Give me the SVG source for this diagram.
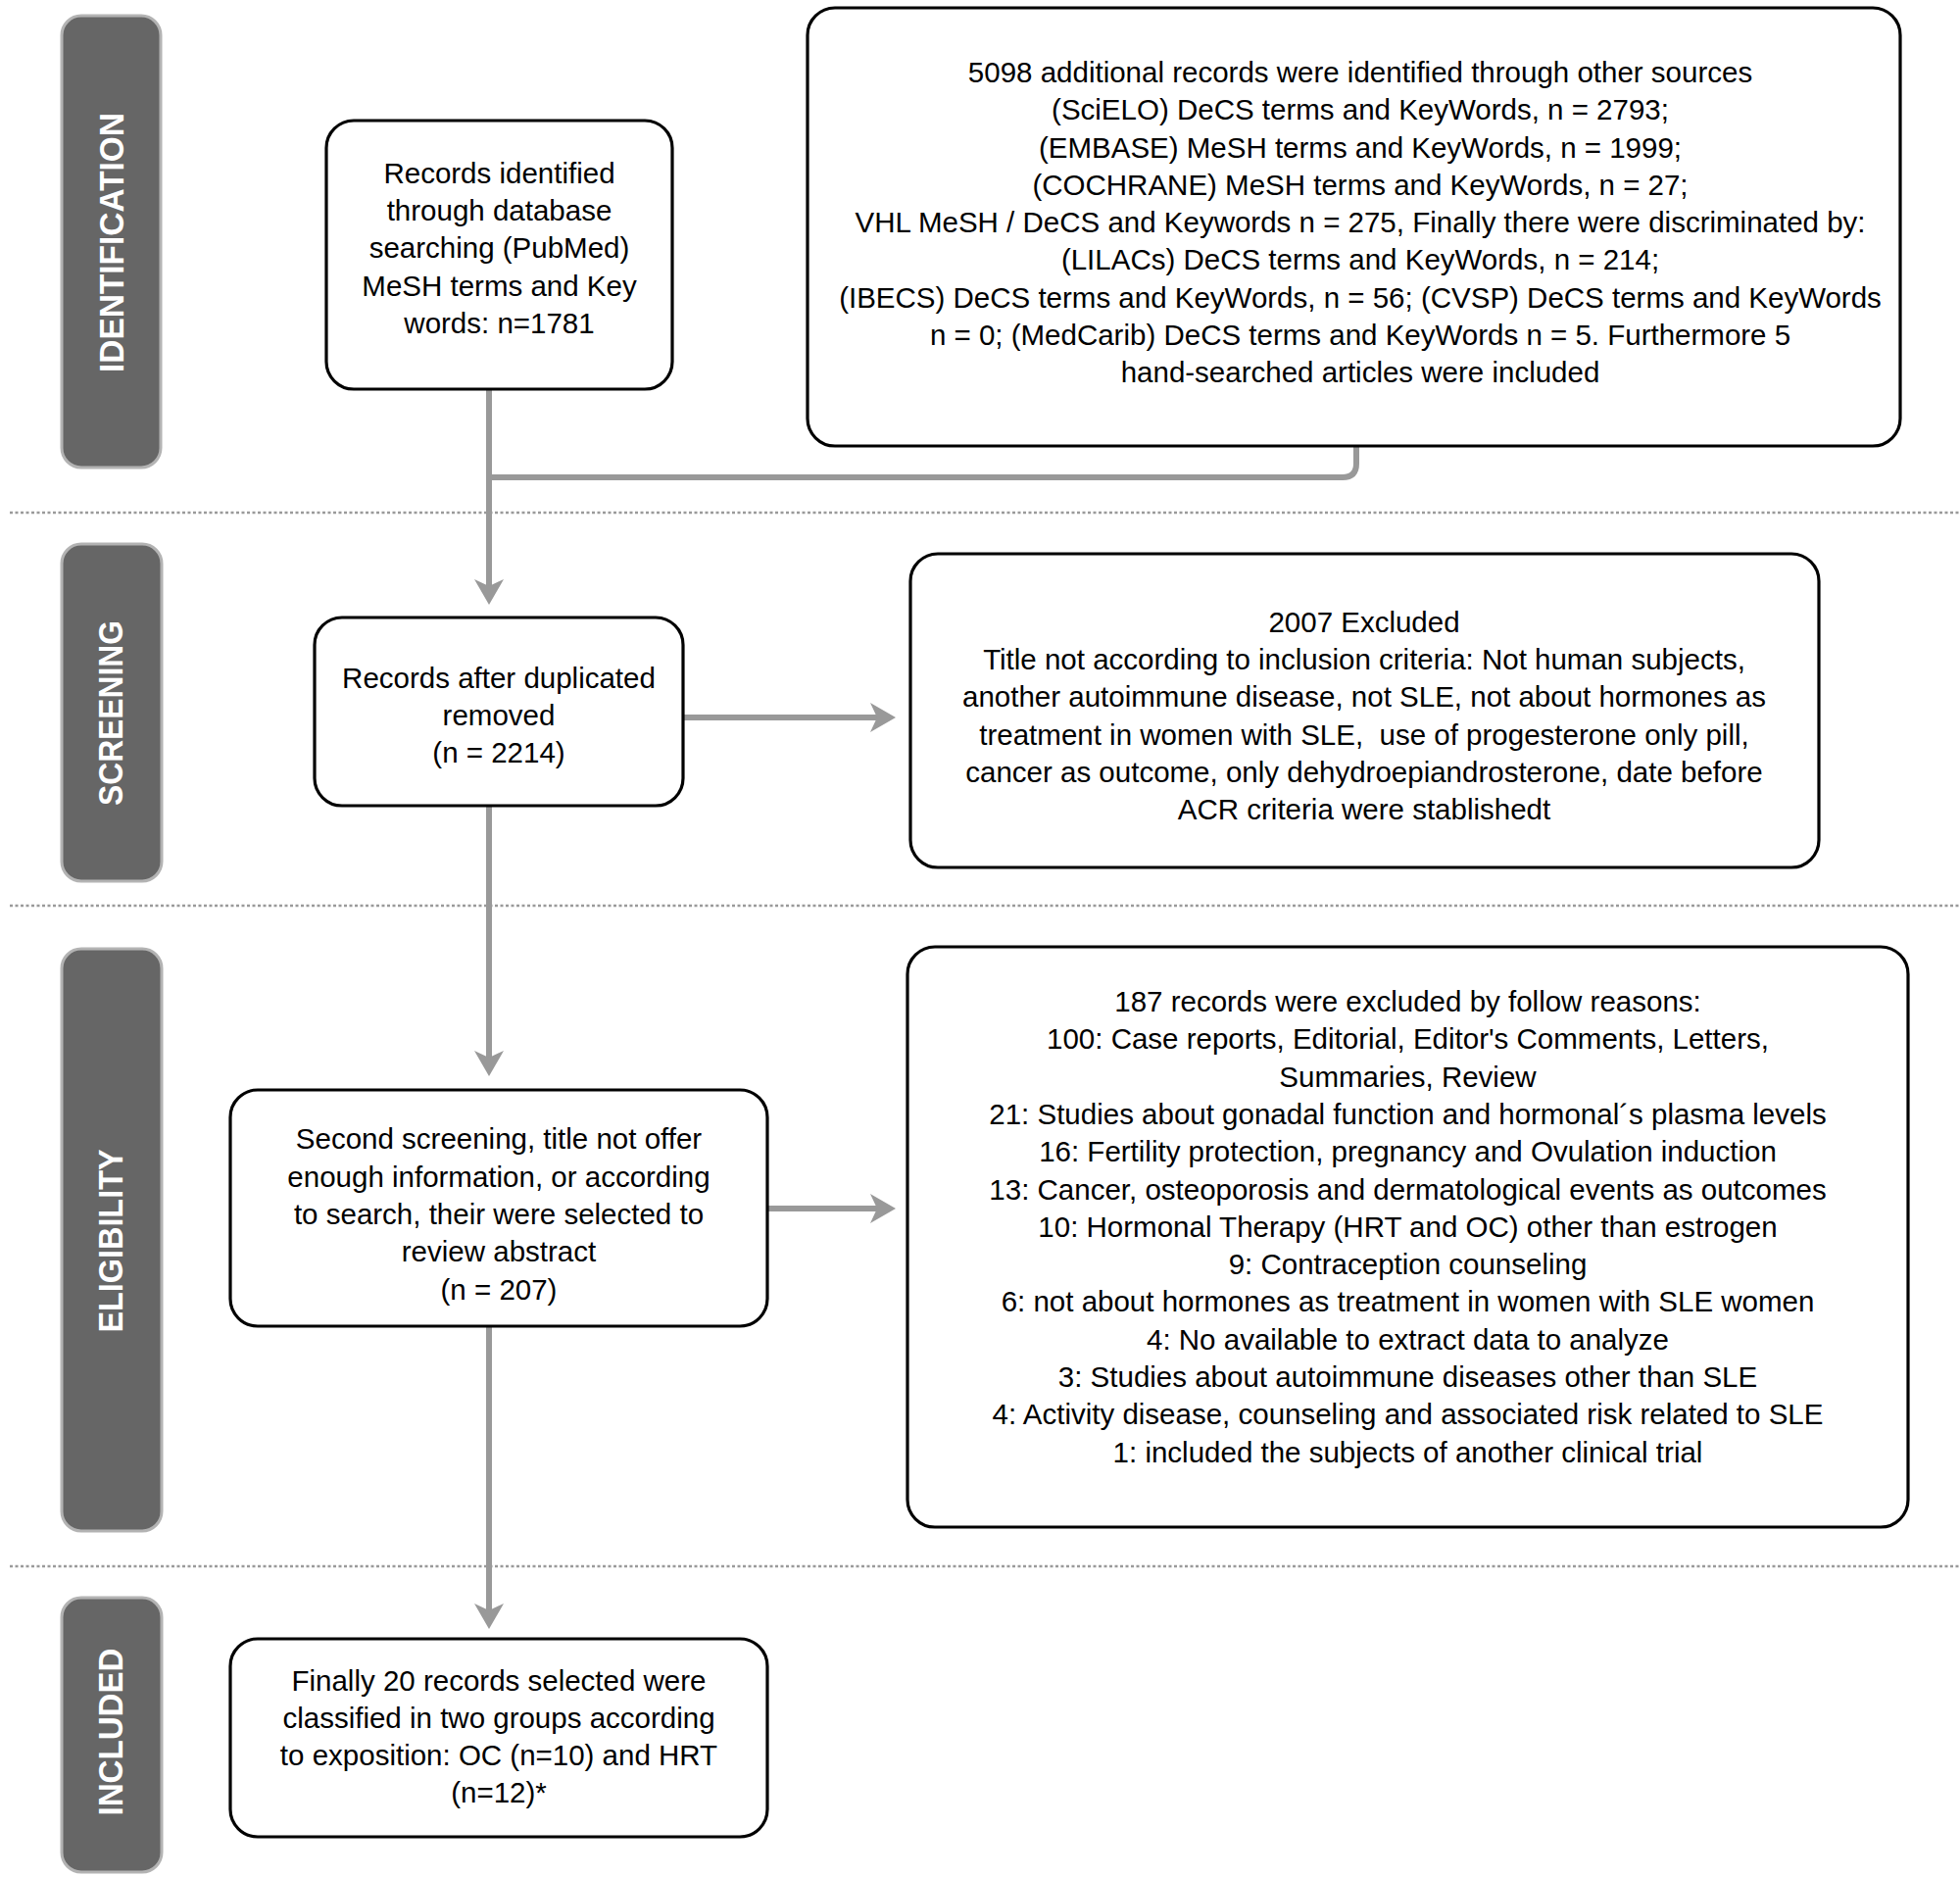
<svg xmlns="http://www.w3.org/2000/svg" width="2000" height="1915" viewBox="0 0 2000 1915">
<defs>
<style>
.box{fill:#fff;stroke:#000;stroke-width:3.2}
.lane{fill:#666;stroke:#b3b3b3;stroke-width:3}
.lt{font-family:"Liberation Sans",Arial,sans-serif;font-weight:bold;font-size:35px;fill:#fff;text-anchor:middle}
.t{font-family:"Liberation Sans",Arial,sans-serif;font-size:29.5px;fill:#000;text-anchor:middle}
.sep{stroke:#9a9a9a;stroke-width:2.5;stroke-dasharray:3 2.5;fill:none}
.con{stroke:#999;stroke-width:6;fill:none}
</style>
<marker id="ah" viewBox="0 0 26 30" refX="16" refY="15" markerWidth="26" markerHeight="30" markerUnits="userSpaceOnUse" orient="auto">
<path d="M0,0 L26,15 L0,30 L7,15 Z" fill="#999"/>
</marker>
</defs>
<rect width="2000" height="1915" fill="#fff"/>
<g id="separators">
<line class="sep" x1="10" y1="523" x2="2000" y2="523"/>
<line class="sep" x1="10" y1="924" x2="2000" y2="924"/>
<line class="sep" x1="10" y1="1598" x2="2000" y2="1598"/>
</g>
<g id="lanes">
<g id="lane-identification"><rect class="lane" x="63" y="16" width="101" height="461" rx="20"/><text class="lt" transform="translate(113.5,247.5) rotate(-90)" y="12.5" textLength="265" lengthAdjust="spacingAndGlyphs">IDENTIFICATION</text></g>
<g id="lane-screening"><rect class="lane" x="63" y="555" width="102" height="344" rx="20"/><text class="lt" transform="translate(112,727.5) rotate(-90)" y="12.5" textLength="189" lengthAdjust="spacingAndGlyphs">SCREENING</text></g>
<g id="lane-eligibility"><rect class="lane" x="63" y="968" width="102" height="594" rx="20"/><text class="lt" transform="translate(112,1266) rotate(-90)" y="12.5" textLength="187" lengthAdjust="spacingAndGlyphs">ELIGIBILITY</text></g>
<g id="lane-included"><rect class="lane" x="63" y="1630" width="102" height="280" rx="20"/><text class="lt" transform="translate(112,1767) rotate(-90)" y="12.5" textLength="171" lengthAdjust="spacingAndGlyphs">INCLUDED</text></g>
</g>
<g id="connectors">
<path class="con" d="M499,397 L499,607" marker-end="url(#ah)"/>
<path class="con" d="M1384,455 L1384,473 Q1384,487 1370,487 L499,487"/>
<path class="con" d="M697,732 L904,732" marker-end="url(#ah)"/>
<path class="con" d="M499,822 L499,1088" marker-end="url(#ah)"/>
<path class="con" d="M783,1233 L904,1233" marker-end="url(#ah)"/>
<path class="con" d="M499,1353 L499,1652" marker-end="url(#ah)"/>
</g>
<g id="box-database">
<rect class="box" x="333" y="123" width="353" height="274" rx="28"/>
<text class="t"><tspan x="509.5" y="187">Records identified</tspan><tspan x="509.5" y="225">through database</tspan><tspan x="509.5" y="263">searching (PubMed)</tspan><tspan x="509.5" y="302">MeSH terms and Key</tspan><tspan x="509.5" y="340">words: n=1781</tspan></text>
</g>
<g id="box-other-sources">
<rect class="box" x="824" y="8" width="1115" height="447" rx="28"/>
<text class="t"><tspan x="1388" y="84">5098 additional records were identified through other sources</tspan><tspan x="1388" y="122">(SciELO) DeCS terms and KeyWords, n = 2793;</tspan><tspan x="1388" y="160.5">(EMBASE) MeSH terms and KeyWords, n = 1999;</tspan><tspan x="1388" y="199">(COCHRANE) MeSH terms and KeyWords, n = 27;</tspan><tspan x="1388" y="237">VHL MeSH / DeCS and Keywords n = 275, Finally there were discriminated by:</tspan><tspan x="1388" y="275">(LILACs) DeCS terms and KeyWords, n = 214;</tspan><tspan x="1388" y="313.5">(IBECS) DeCS terms and KeyWords, n = 56; (CVSP) DeCS terms and KeyWords</tspan><tspan x="1388" y="352">n = 0; (MedCarib) DeCS terms and KeyWords n = 5. Furthermore 5</tspan><tspan x="1388" y="390">hand-searched articles were included</tspan></text>
</g>
<g id="box-duplicates">
<rect class="box" x="321" y="630" width="376" height="192" rx="28"/>
<text class="t"><tspan x="509" y="702">Records after duplicated</tspan><tspan x="509" y="740">removed</tspan><tspan x="509" y="778">(n = 2214)</tspan></text>
</g>
<g id="box-excluded-2007">
<rect class="box" x="929" y="565" width="927" height="320" rx="28"/>
<text class="t" xml:space="preserve"><tspan x="1392" y="645">2007 Excluded</tspan><tspan x="1392" y="683">Title not according to inclusion criteria: Not human subjects,</tspan><tspan x="1392" y="721">another autoimmune disease, not SLE, not about hormones as</tspan><tspan x="1392" y="760">treatment in women with SLE,  use of progesterone only pill,</tspan><tspan x="1392" y="798">cancer as outcome, only dehydroepiandrosterone, date before</tspan><tspan x="1392" y="836">ACR criteria were stablishedt</tspan></text>
</g>
<g id="box-second-screening">
<rect class="box" x="235" y="1112" width="548" height="241" rx="28"/>
<text class="t"><tspan x="509" y="1172">Second screening, title not offer</tspan><tspan x="509" y="1211">enough information, or according</tspan><tspan x="509" y="1249">to search, their were selected to</tspan><tspan x="509" y="1287">review abstract</tspan><tspan x="509" y="1326">(n = 207)</tspan></text>
</g>
<g id="box-excluded-187">
<rect class="box" x="926" y="966" width="1021" height="592" rx="28"/>
<text class="t"><tspan x="1436.5" y="1032">187 records were excluded by follow reasons:</tspan><tspan x="1436.5" y="1070.3">100: Case reports, Editorial, Editor's Comments, Letters,</tspan><tspan x="1436.5" y="1108.6">Summaries, Review</tspan><tspan x="1436.5" y="1146.9">21: Studies about gonadal function and hormonal´s plasma levels</tspan><tspan x="1436.5" y="1185.2">16: Fertility protection, pregnancy and Ovulation induction</tspan><tspan x="1436.5" y="1223.5">13: Cancer, osteoporosis and dermatological events as outcomes</tspan><tspan x="1436.5" y="1261.8">10: Hormonal Therapy (HRT and OC) other than estrogen</tspan><tspan x="1436.5" y="1300.1">9: Contraception counseling</tspan><tspan x="1436.5" y="1338.4">6: not about hormones as treatment in women with SLE women</tspan><tspan x="1436.5" y="1376.7">4: No available to extract data to analyze</tspan><tspan x="1436.5" y="1415">3: Studies about autoimmune diseases other than SLE</tspan><tspan x="1436.5" y="1453.3">4: Activity disease, counseling and associated risk related to SLE</tspan><tspan x="1436.5" y="1491.6">1: included the subjects of another clinical trial</tspan></text>
</g>
<g id="box-included">
<rect class="box" x="235" y="1672" width="548" height="202" rx="28"/>
<text class="t"><tspan x="509" y="1725">Finally 20 records selected were</tspan><tspan x="509" y="1763">classified in two groups according</tspan><tspan x="509" y="1801">to exposition: OC (n=10) and HRT</tspan><tspan x="509" y="1839">(n=12)*</tspan></text>
</g>
</svg>
